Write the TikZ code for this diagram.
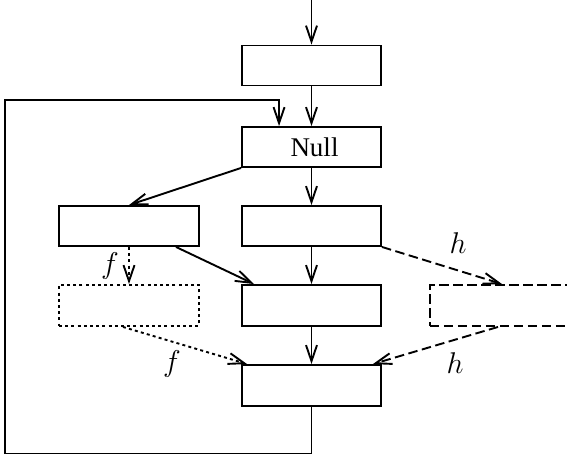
\RequirePackage{fix-cm}
\documentclass[tikz,border=0pt]{standalone}
\usepackage{fontspec}
\setmainfont{Liberation Serif}
\usetikzlibrary{arrows.meta,positioning}
\begin{document}
\begin{tikzpicture}[x=1pt,y=-1pt,
  blk/.style={draw,line width=1.9pt,minimum width=139pt,minimum height=40pt,inner sep=0pt,
    font=\fontsize{27}{30}\selectfont},
  dotbox/.style={blk,dash pattern=on 3pt off 3.2pt},
  dashbox/.style={blk,dash pattern=on 9.5pt off 4.5pt},
  conn/.style={line width=1.9pt,-{Straight Barb[length=16pt,width=11pt]}},
  dotconn/.style={conn,dash pattern=on 3pt off 3.2pt},
  dashconn/.style={conn,dash pattern=on 9.5pt off 4.5pt},
  lbl/.style={font=\fontsize{30}{34}\selectfont,inner sep=0pt}]
\clip (0,0) rectangle (567,462);
\coordinate (top) at (311.5,0);
\node[blk] (A) at (311.5,65.5) {};
\node[blk] (N) at (311.5,147) {\hspace*{6pt}Null};
\node[blk,minimum width=140pt] (L1) at (129,226) {};
\node[blk] (R1) at (311.5,226) {};
\node[dotbox,minimum width=140pt,minimum height=41pt] (D) at (129,305.5) {};
\node[blk,minimum height=41pt] (M) at (311.5,305.5) {};
\node[dashbox,minimum width=150pt,minimum height=41pt,anchor=west] (H) at (429,305.5) {};
\node[blk,minimum height=41pt] (B) at (311.5,385.5) {};
\coordinate (lp) at (5,100);
\draw[conn] (top) -- (A.north);
\draw[conn] (A.south) -- (N.north);
\draw[conn] (B.south) -- ++(0,46.5) -| (lp) -| ([xshift=38pt]N.north west);
\draw[conn] (N.south west) -- (L1.north);
\draw[conn] (N.south) -- (R1.north);
\draw[dotconn] (L1.south) -- (D.north);
\draw[conn] ([xshift=-24pt]L1.south east) -- ([xshift=13pt]M.north west);
\draw[conn] (R1.south) -- (M.north);
\draw[dashconn] (R1.south east) -- ([xshift=73pt]H.north west);
\draw[conn] (M.south) -- (B.north);
\draw[dotconn] ([xshift=-6pt]D.south) -- ([xshift=6pt]B.north west);
\draw[dashconn] ([xshift=69pt]H.south west) -- ([xshift=-9pt]B.north east);
\node[lbl] (f1) at (110,266) {$f$};
\node[lbl] (f2) at (172,364) {$f$};
\node[lbl] (h1) at (458,243) {$h$};
\node[lbl] (h2) at (455,363) {$h$};
\end{tikzpicture}
\end{document}
